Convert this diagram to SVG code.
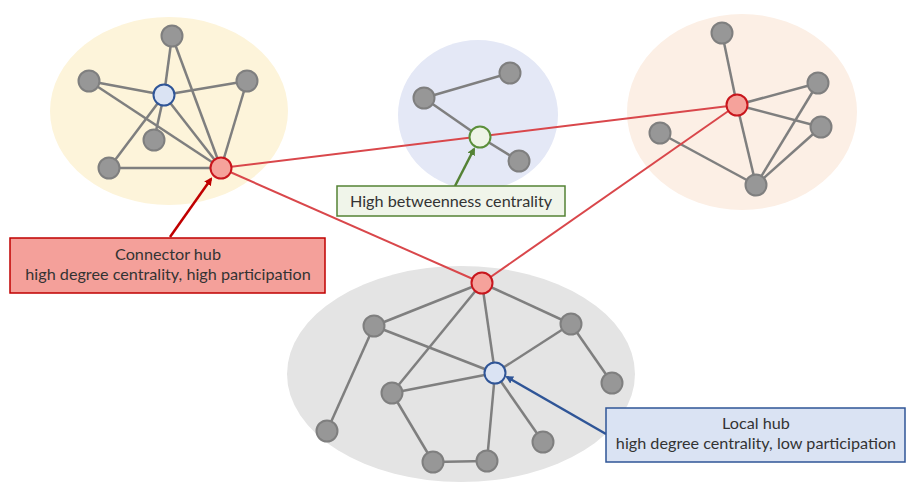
<svg xmlns="http://www.w3.org/2000/svg" width="908" height="483" viewBox="0 0 908 483">
<defs>
<style>
.e{stroke:#7f7f7f;stroke-width:2.5;fill:none}
.r{stroke:#d9474b;stroke-width:2;fill:none}
.n{fill:#979797;stroke:#7f7f7f;stroke-width:2}
.hr{fill:#f5a29b;stroke:#c8161d;stroke-width:2}
.hb{fill:#dae3f3;stroke:#2f5597;stroke-width:2}
.hg{fill:#eef4e6;stroke:#5b8f3a;stroke-width:2}
text{font-family:"Lato","Liberation Sans",sans-serif;font-size:16.2px;fill:#333;text-anchor:middle}
</style>
<marker id="aR" markerWidth="8" markerHeight="8" refX="6" refY="4" orient="auto" markerUnits="userSpaceOnUse"><path d="M0,0 L8,4 L0,8 z" fill="#c00000"/></marker>
<marker id="aG" markerWidth="8" markerHeight="8" refX="6" refY="4" orient="auto" markerUnits="userSpaceOnUse"><path d="M0,0 L8,4 L0,8 z" fill="#548235"/></marker>
<marker id="aB" markerWidth="8" markerHeight="8" refX="6" refY="4" orient="auto" markerUnits="userSpaceOnUse"><path d="M0,0 L8,4 L0,8 z" fill="#2f5597"/></marker>
</defs>
<rect width="908" height="483" fill="#fff"/>
<g id="clusters">
<ellipse cx="169" cy="111" rx="119" ry="94" fill="#fdf4da"/>
<ellipse cx="478" cy="115" rx="80" ry="75" fill="#e4e8f6"/>
<ellipse cx="742" cy="112" rx="115" ry="98" fill="#fcefe5"/>
<ellipse cx="461" cy="374" rx="174" ry="108" fill="#e4e4e4"/>
</g>
<g id="connectors">
<line class="e" x1="172" y1="36" x2="164" y2="95"/>
<line class="e" x1="172" y1="36" x2="221" y2="168"/>
<line class="e" x1="89" y1="81" x2="164" y2="95"/>
<line class="e" x1="89" y1="81" x2="221" y2="168"/>
<line class="e" x1="164" y1="95" x2="247" y2="81"/>
<line class="e" x1="164" y1="95" x2="221" y2="168"/>
<line class="e" x1="164" y1="95" x2="154" y2="140"/>
<line class="e" x1="164" y1="95" x2="109" y2="168"/>
<line class="e" x1="247" y1="81" x2="221" y2="168"/>
<line class="e" x1="109" y1="168" x2="221" y2="168"/>
<line class="e" x1="424" y1="98" x2="510" y2="73"/>
<line class="e" x1="424" y1="98" x2="480" y2="137"/>
<line class="e" x1="480" y1="137" x2="519" y2="161"/>
<line class="e" x1="722" y1="33" x2="737" y2="105"/>
<line class="e" x1="737" y1="105" x2="818" y2="83"/>
<line class="e" x1="737" y1="105" x2="821" y2="127"/>
<line class="e" x1="737" y1="105" x2="756" y2="185"/>
<line class="e" x1="818" y1="83" x2="756" y2="185"/>
<line class="e" x1="821" y1="127" x2="756" y2="185"/>
<line class="e" x1="660" y1="133" x2="756" y2="185"/>
<line class="e" x1="482" y1="283" x2="374" y2="326"/>
<line class="e" x1="482" y1="283" x2="571" y2="324"/>
<line class="e" x1="482" y1="283" x2="495" y2="373"/>
<line class="e" x1="482" y1="283" x2="392" y2="393"/>
<line class="e" x1="374" y1="326" x2="495" y2="373"/>
<line class="e" x1="374" y1="326" x2="327" y2="431"/>
<line class="e" x1="571" y1="324" x2="495" y2="373"/>
<line class="e" x1="571" y1="324" x2="612" y2="383"/>
<line class="e" x1="495" y1="373" x2="392" y2="393"/>
<line class="e" x1="495" y1="373" x2="487" y2="461"/>
<line class="e" x1="495" y1="373" x2="543" y2="442"/>
<line class="e" x1="392" y1="393" x2="433" y2="462"/>
<line class="e" x1="433" y1="462" x2="487" y2="461"/>
<line class="r" x1="221" y1="168" x2="737" y2="105"/>
<line class="r" x1="221" y1="168" x2="482" y2="283"/>
<line class="r" x1="737" y1="105" x2="482" y2="283"/>
<line stroke="#c00000" stroke-width="2.5" x1="170" y1="237" x2="211" y2="179" marker-end="url(#aR)"/>
<line stroke="#548235" stroke-width="2.5" x1="455" y1="186" x2="474" y2="149" marker-end="url(#aG)"/>
<line stroke="#2f5597" stroke-width="2.5" x1="606" y1="434" x2="507" y2="377" marker-end="url(#aB)"/>
</g>
<g id="nodes">
<circle class="n" cx="172" cy="36" r="10.5"/>
<circle class="n" cx="89" cy="81" r="10.5"/>
<circle class="n" cx="247" cy="81" r="10.5"/>
<circle class="n" cx="154" cy="140" r="10.5"/>
<circle class="n" cx="109" cy="168" r="10.5"/>
<circle id="yellow-local" class="hb" cx="164" cy="95" r="10.5"/>
<circle id="connector-hub" class="hr" cx="221" cy="168" r="10.5"/>
<circle class="n" cx="510" cy="73" r="10.5"/>
<circle class="n" cx="424" cy="98" r="10.5"/>
<circle class="n" cx="519" cy="161" r="10.5"/>
<circle id="betweenness" class="hg" cx="480" cy="137" r="10.5"/>
<circle class="n" cx="722" cy="33" r="10.5"/>
<circle class="n" cx="818" cy="83" r="10.5"/>
<circle class="n" cx="821" cy="127" r="10.5"/>
<circle class="n" cx="660" cy="133" r="10.5"/>
<circle class="n" cx="756" cy="185" r="10.5"/>
<circle id="orange-hub" class="hr" cx="737" cy="105" r="10.5"/>
<circle class="n" cx="374" cy="326" r="10.5"/>
<circle class="n" cx="571" cy="324" r="10.5"/>
<circle class="n" cx="612" cy="383" r="10.5"/>
<circle class="n" cx="392" cy="393" r="10.5"/>
<circle class="n" cx="327" cy="431" r="10.5"/>
<circle class="n" cx="543" cy="442" r="10.5"/>
<circle class="n" cx="433" cy="462" r="10.5"/>
<circle class="n" cx="487" cy="461" r="10.5"/>
<circle id="gray-hub" class="hr" cx="482" cy="283" r="10.5"/>
<circle id="local-hub" class="hb" cx="495" cy="373" r="10.5"/>
</g>
<g id="label-connector">
<rect x="10" y="238" width="315" height="55" fill="#f4a09a" stroke="#c00000" stroke-width="1.5"/>
<text x="168" y="260">Connector hub</text>
<text x="168" y="280">high degree centrality, high participation</text>
</g>
<g id="label-betweenness">
<rect x="337" y="186" width="228" height="30" fill="#f0f5ea" stroke="#548235" stroke-width="1.5"/>
<text x="451" y="207">High betweenness centrality</text>
</g>
<g id="label-local">
<rect x="606" y="408" width="299" height="54" fill="#dae3f3" stroke="#2f5597" stroke-width="1.5"/>
<text x="756" y="429">Local hub</text>
<text x="756" y="449">high degree centrality, low participation</text>
</g>
</svg>
